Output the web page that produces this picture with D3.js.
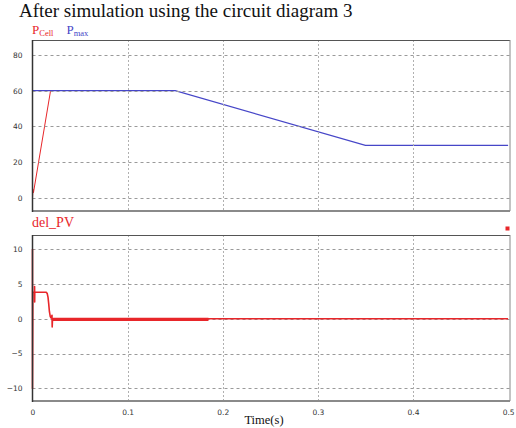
<!DOCTYPE html>
<html>
<head>
<meta charset="utf-8">
<script src="https://cdn.jsdelivr.net/npm/d3@7"></script>
<style>
  body { margin: 0; background: #fff; }
  svg { display: block; }
  .tick text { font-family: "DejaVu Sans", sans-serif; font-size: 7.5px; fill: #333; }
</style>
</head>
<body>
<div id="chart"></div>
<script>
// P_max (blue) and P_Cell (red) in the upper panel
const pmaxTime = [0, 0.15, 0.35, 0.5]
const pmaxValue = [60, 60, 29.5, 29.5]
const pcellTime = [0, 0.0005, 0.001, 0.019]
const pcellValue = [0, 5, 3, 60]

// del_PV in the lower panel
const delTime = [0, 0, 0.0004, 0.0022, 0.0022, 0.0023, 0.0024, 0.0144, 0.0155, 0.0163, 0.017, 0.0178, 0.0187, 0.0196, 0.0205, 0.0207, 0.021, 0.0215, 0.5]
const delValue = [10, -10, 3.8, 3.8, 4.6, 2.4, 3.8, 3.8, 3.6, 3.1, 2.2, 1.0, 0.3, 0.1, 0.5, -1.2, -0.2, 0, 0]
const rippleTime = [0.0215, 0.185]
const rippleValue = [-0.1, -0.1]

const xTicks = [0, 0.1, 0.2, 0.3, 0.4, 0.5]
const topTicks = [0, 20, 40, 60, 80]
const bottomTicks = [-10, -5, 0, 5, 10]

const red = '#e8262a'
const blue = '#4646c8'

const svg = d3.select('#chart').append('svg')
  .attr('width', 516)
  .attr('height', 428)

const x = d3.scaleLinear().domain([0, 0.502]).range([32.5, 510])
const yTop = d3.scaleLinear().domain([-7.2, 88.3]).range([211, 40])
const yBot = d3.scaleLinear().domain([-11.8, 12.0]).range([401, 235])

svg.append('text')
  .attr('x', 19)
  .attr('y', 17)
  .attr('font-family', '"Liberation Serif", serif')
  .attr('font-size', 19)
  .attr('fill', '#111')
  .text('After simulation using the circuit diagram 3')

function panel(y, ticks) {
  const g = svg.append('g')
  const [y0, y1] = y.range()

  g.append('g')
    .attr('transform', 'translate(32.5,0)')
    .call(d3.axisLeft(y).tickValues(ticks).tickSize(0).tickPadding(10))
    .call(a => a.select('.domain').remove())

  const grid = g.append('g').attr('class', 'grid')
  const drawGrid = () => {
    grid.raise()
    grid.selectAll('.h').data(ticks).join('line')
      .attr('class', 'h')
      .attr('x1', x.range()[0]).attr('x2', x.range()[1])
      .attr('y1', d => Math.round(y(d)) + 0.5).attr('y2', d => Math.round(y(d)) + 0.5)
      .attr('stroke', '#9a9a9a')
      .attr('stroke-dasharray', '3,3')
    grid.selectAll('.v').data(xTicks.slice(1, 5)).join('line')
      .attr('class', 'v')
      .attr('x1', d => Math.round(x(d)) + 0.5).attr('x2', d => Math.round(x(d)) + 0.5)
      .attr('y1', y1).attr('y2', y0)
      .attr('stroke', '#b0b0b0')
      .attr('stroke-dasharray', '2,2')
  }
  return { g, drawGrid, y0, y1 }
}

function frame(p) {
  const [xa, xb] = x.range()
  p.g.append('line').attr('x1', xa).attr('x2', xb).attr('y1', p.y1 + 0.5).attr('y2', p.y1 + 0.5).attr('stroke', '#555')
  p.g.append('line').attr('x1', xb).attr('x2', xb).attr('y1', p.y1).attr('y2', p.y0).attr('stroke', '#888')
  p.g.append('line').attr('x1', xa).attr('x2', xb).attr('y1', p.y0).attr('y2', p.y0).attr('stroke', '#8a8a8a').attr('stroke-width', 2)
  p.g.append('line').attr('x1', xa).attr('x2', xa).attr('y1', p.y1).attr('y2', p.y0 + 1).attr('stroke', '#333').attr('stroke-width', 1.5)
}

// upper panel
const upper = panel(yTop, topTicks)
const lineTop = d3.line().x(d => x(d[0])).y(d => yTop(d[1]))
upper.g.append('path')
  .attr('d', lineTop(d3.zip(pcellTime, pcellValue)))
  .attr('fill', 'none').attr('stroke', red).attr('stroke-width', 1)
upper.g.append('path')
  .attr('d', lineTop(d3.zip(pmaxTime, pmaxValue)))
  .attr('fill', 'none').attr('stroke', blue).attr('stroke-width', 1.2)
upper.drawGrid()
frame(upper)

// lower panel
const lower = panel(yBot, bottomTicks)
lower.drawGrid()
const lineBot = d3.line().x(d => x(d[0])).y(d => yBot(d[1]))
lower.g.append('path')
  .attr('d', lineBot(d3.zip(rippleTime, rippleValue)))
  .attr('fill', 'none').attr('stroke', red).attr('stroke-width', 3.2)
lower.g.append('path')
  .attr('d', lineBot(d3.zip(delTime, delValue)))
  .attr('fill', 'none').attr('stroke', red).attr('stroke-width', 1.6)
  .attr('stroke-linejoin', 'round')
frame(lower)

// x axis
svg.append('g')
  .attr('transform', 'translate(0,401)')
  .call(d3.axisBottom(x).tickValues(xTicks).tickFormat(d3.format('~g')).tickSize(0).tickPadding(9))
  .call(a => a.select('.domain').remove())

svg.append('text')
  .attr('x', 264)
  .attr('y', 424)
  .attr('text-anchor', 'middle')
  .attr('font-family', '"Liberation Serif", serif')
  .attr('font-size', 12.5)
  .attr('fill', '#111')
  .text('Time(s)')

// legends
const leg = svg.append('g').attr('font-family', '"Liberation Serif", serif')
const pc = leg.append('text').attr('x', 32).attr('y', 33.5).attr('fill', red).attr('font-size', 13)
pc.append('tspan').text('P')
pc.append('tspan').attr('font-size', 8.5).attr('dy', 2).text('Cell')
const pm = leg.append('text').attr('x', 66.5).attr('y', 33.5).attr('fill', blue).attr('font-size', 13)
pm.append('tspan').text('P')
pm.append('tspan').attr('font-size', 8.5).attr('dy', 2).text('max')

leg.append('text')
  .attr('x', 32).attr('y', 227)
  .attr('fill', red)
  .attr('font-size', 14)
  .text('del_PV')

svg.append('rect')
  .attr('x', 505.5).attr('y', 226.5)
  .attr('width', 4).attr('height', 4)
  .attr('fill', red)
</script>
</body>
</html>
